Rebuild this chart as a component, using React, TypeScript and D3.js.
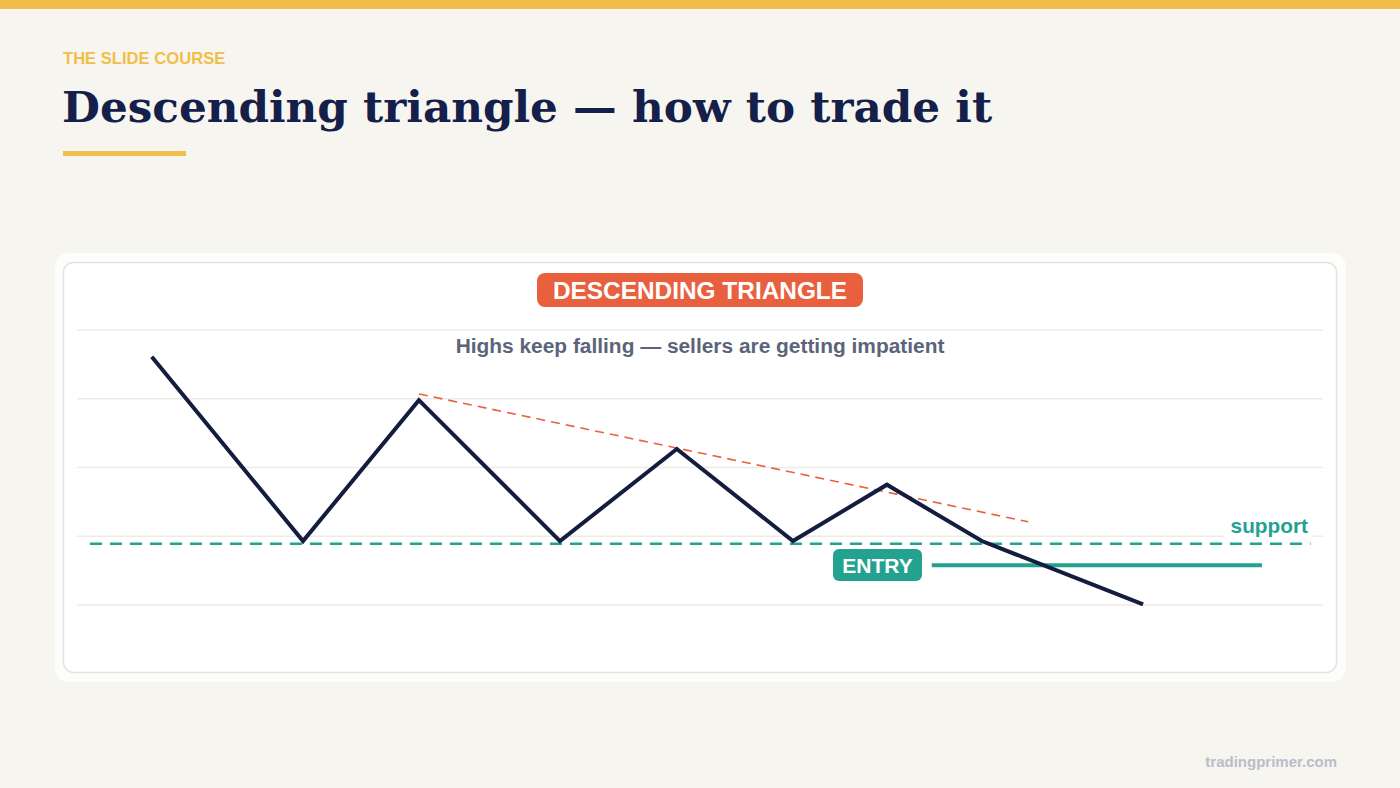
import * as d3 from "d3";

// price path (bar index, price level)
const swingBars = [3.0, 9.07, 13.72, 19.38, 24.07, 28.73, 32.5, 36.31, 42.78];
const swingPrices = [3.61, 0.93, 2.98, 0.93, 2.27, 0.93, 1.75, 0.93, 0.01];

// levels
const gridTicks = [0, 1, 2, 3, 4];
const supportLevel = 0.89;
const supportBars = [0.52, 49.5];
const entryLevel = 0.58;
const entryBars = [34.3, 47.55];
const trendBars = [13.72, 38.17];
const trendPrices = [3.07, 1.21];

const W = 1400;
const H = 788;
const sans = "'Liberation Sans', Arial, sans-serif";
const navy = "#141c3f";
const teal = "#23a38f";
const coral = "#e9603f";
const gold = "#f2be4a";

export default function App() {
  const x = d3.scaleLinear().domain([0, 50]).range([77, 1323]);
  const y = d3.scaleLinear().domain([0, 4]).range([605, 330]);

  const path = d3
    .line<number>()
    .x((_, i) => x(swingBars[i]))
    .y((d) => y(d))(swingPrices);

  const trend = d3
    .line<number>()
    .x((_, i) => x(trendBars[i]))
    .y((d) => y(d))(trendPrices);

  return (
    <svg
      width={W}
      height={H}
      viewBox={`0 0 ${W} ${H}`}
      style={{ position: "absolute", left: 0, top: 0 }}
    >
      <rect width={W} height={H} fill="#f7f5ef" />
      <rect width={W} height={9} fill={gold} />

      <text x={63} y={64} fill={gold} fontFamily={sans} fontWeight={700} fontSize={16.6}>
        THE SLIDE COURSE
      </text>
      <text
        x={62}
        y={122}
        fill="#14204a"
        fontFamily="'DejaVu Serif', serif"
        fontWeight={700}
        fontSize={43.7}
      >
        Descending triangle — how to trade it
      </text>
      <rect x={63} y={151} width={123} height={5} fill={gold} />

      {/* card */}
      <rect x={55} y={253} width={1291} height={429} rx={14} fill="#fdfdfb" />
      <rect
        x={63.5}
        y={262.5}
        width={1273}
        height={410}
        rx={10}
        fill="#ffffff"
        stroke="#e3e3df"
        strokeWidth={1.5}
      />

      {/* grid */}
      {gridTicks.map((t) => (
        <line
          key={t}
          x1={77}
          x2={1323}
          y1={y(t)}
          y2={y(t)}
          stroke="#ecebe6"
          strokeWidth={1.5}
        />
      ))}

      {/* badge */}
      <rect x={537} y={273} width={326} height={34} rx={8} fill={coral} />
      <text
        x={700}
        y={299}
        textAnchor="middle"
        fill="#ffffff"
        fontFamily={sans}
        fontWeight={700}
        fontSize={24.4}
      >
        DESCENDING TRIANGLE
      </text>
      <text
        x={700}
        y={353}
        textAnchor="middle"
        fill="#5b6479"
        fontFamily={sans}
        fontWeight={700}
        fontSize={20.9}
      >
        Highs keep falling — sellers are getting impatient
      </text>

      {/* support */}
      <line
        x1={x(supportBars[0])}
        x2={x(supportBars[1])}
        y1={y(supportLevel)}
        y2={y(supportLevel)}
        stroke={teal}
        strokeWidth={2.5}
        strokeDasharray="12 8"
      />
      <rect x={1224} y={512} width={89} height={26} fill="#ffffff" />
      <text
        x={1308}
        y={533}
        textAnchor="end"
        fill={teal}
        fontFamily={sans}
        fontWeight={700}
        fontSize={20.8}
      >
        support
      </text>

      {/* falling highs */}
      <path d={trend ?? ""} fill="none" stroke={coral} strokeWidth={1.6} strokeDasharray="9 6" />

      {/* entry */}
      <line
        x1={x(entryBars[0])}
        x2={x(entryBars[1])}
        y1={y(entryLevel)}
        y2={y(entryLevel)}
        stroke={teal}
        strokeWidth={4}
      />

      {/* price */}
      <path
        d={path ?? ""}
        fill="none"
        stroke={navy}
        strokeWidth={4}
        strokeLinejoin="miter"
      />

      <rect x={833} y={549} width={89} height={32} rx={6} fill={teal} />
      <text
        x={877.5}
        y={572.5}
        textAnchor="middle"
        fill="#ffffff"
        fontFamily={sans}
        fontWeight={700}
        fontSize={21}
      >
        ENTRY
      </text>

      <text
        x={1337}
        y={767}
        textAnchor="end"
        fill="#b9bdcb"
        fontFamily={sans}
        fontWeight={700}
        fontSize={15}
      >
        tradingprimer.com
      </text>
    </svg>
  );
}
